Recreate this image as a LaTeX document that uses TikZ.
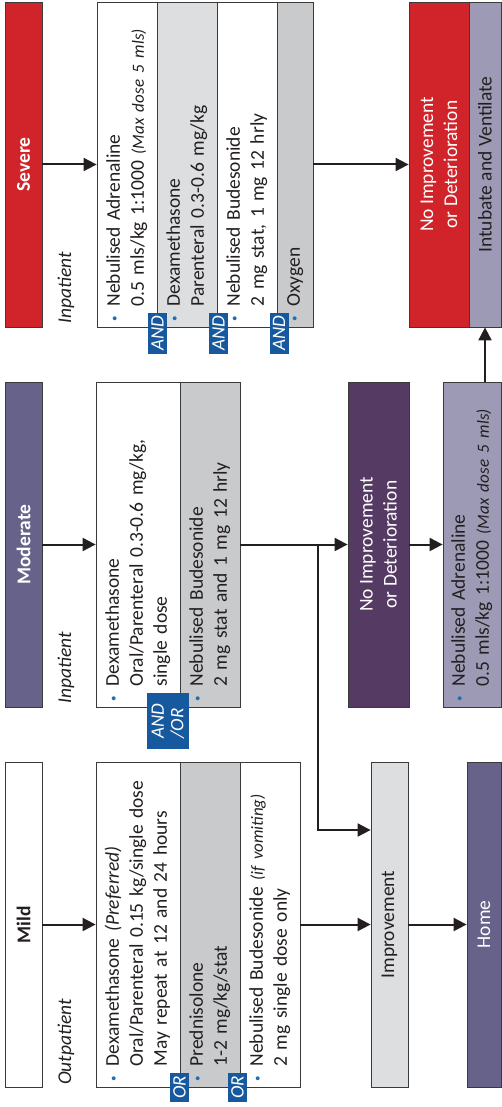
\documentclass[tikz,border=0pt]{standalone}
\usepackage{fontspec}
\setmainfont{Carlito}
\usepackage{xcolor}
\usepackage{tikz}
\usetikzlibrary{arrows.meta}
\definecolor{severered}{HTML}{D1232A}
\definecolor{modpurple}{HTML}{67628A}
\definecolor{darkpurple}{HTML}{553A63}
\definecolor{lavender}{HTML}{9D9AB6}
\definecolor{lightgrey}{HTML}{DDDEDF}
\definecolor{midgrey}{HTML}{C9CACC}
\definecolor{tagblue}{HTML}{17599E}
\definecolor{dotblue}{HTML}{1F6DB4}
\definecolor{edge}{HTML}{3A3A3A}
\definecolor{ink}{HTML}{231F20}
\newcommand{\bodysize}{\fontsize{19.5}{24}\selectfont}
\newcommand{\drug}[1]{\makebox[0.75em][l]{\raisebox{2pt}{\textcolor{dotblue}{\fontsize{11}{11}\selectfont\textbullet}}}\begin{tabular}[t]{@{}l@{}}#1\end{tabular}}
\newcommand{\note}[1]{{\itshape #1}}
\newcommand{\maxdose}{{\fontsize{17}{20}\selectfont\itshape (Max dose 5 mls)}}
\tikzset{
  stage/.style={draw=edge, line width=0.8pt, rotate=90, minimum width=325pt, minimum height=37pt, inner sep=0pt, font=\bodysize\bfseries},
  strip/.style={draw=edge, line width=0.8pt, rotate=90, minimum width=325pt, text width=313pt, align=left, inner xsep=6pt, inner ysep=0pt, font=\bodysize, text=ink},
  outcome/.style={draw=edge, line width=0.8pt, rotate=90, minimum width=325pt, inner sep=0pt, align=center, font=\bodysize},
  setting/.style={rotate=90, anchor=west, inner sep=0pt, font=\bodysize\itshape, text=ink},
  tag/.style={fill=tagblue, text=white, rotate=90, inner sep=0pt, align=left, font=\fontsize{19}{19.5}\selectfont\itshape},
  flow/.style={line width=2pt, draw=ink, -{Triangle[length=13pt,width=13pt]}},
}

\begin{document}
\begin{tikzpicture}[x=1pt, y=-1pt]
\useasboundingbox (0,0) rectangle (501,1107);

\node[stage, fill=severered, text=white] (severe) at (23.5,164.5) {Severe};
\node[setting] (sevSet) at (66,324) {Inpatient};
\node[strip, fill=white, minimum height=60pt] (sevA) at (127,164.5) {\drug{Nebulised Adrenaline\\0.5 mls/kg 1:1000 \maxdose}};
\node[strip, fill=lightgrey, minimum height=60pt] (sevB) at (187,164.5) {\drug{Dexamethasone\\Parenteral 0.3-0.6 mg/kg}};
\node[strip, fill=white, minimum height=60pt] (sevC) at (247,164.5) {\drug{Nebulised Budesonide\\2 mg stat, 1 mg 12 hrly}};
\node[strip, fill=midgrey, minimum height=36pt] (sevD) at (295,164.5) {\drug{Oxygen}};
\node[tag, minimum width=41pt, minimum height=19pt] (andA) at (157.5,333.5) {AND};
\node[tag, minimum width=41pt, minimum height=19pt] (andB) at (218.5,333.5) {AND};
\node[tag, minimum width=41pt, minimum height=19pt] (andC) at (279,333.5) {AND};
\node[outcome, fill=severered, text=white, minimum height=60pt] (sevNo) at (439,164.5) {No Improvement\\or Deterioration};
\node[outcome, fill=lavender, text=ink, minimum height=32pt] (intub) at (485,164.5) {Intubate and Ventilate};

\node[stage, fill=modpurple, text=white] (moderate) at (23.5,544.5) {Moderate};
\node[setting] (modSet) at (66,704) {Inpatient};
\node[strip, fill=white, minimum height=84pt] (modA) at (138,544.5) {\drug{Dexamethasone\\Oral/Parenteral 0.3-0.6 mg/kg,\\single dose}};
\node[strip, fill=midgrey, minimum height=60pt] (modB) at (210,544.5) {\drug{Nebulised Budesonide\\2 mg stat and 1 mg 12 hrly}};
\node[tag, minimum width=56pt, minimum height=42pt] (andor) at (168,721) {AND\\/OR};
\node[outcome, fill=darkpurple, text=white, minimum height=61pt] (modNo) at (378.5,544.5) {No Improvement\\or Deterioration};
\node[strip, fill=lavender, minimum height=58pt] (adren) at (472,544.5) {\drug{Nebulised Adrenaline\\0.5 mls/kg 1:1000 \maxdose}};
\coordinate (split) at (318,544.5);

\node[stage, fill=white, text=ink] (mild) at (23.5,924.5) {Mild};
\node[setting] (mildSet) at (66,1085) {Outpatient};
\node[strip, fill=white, minimum height=84pt] (mildA) at (138,924.5) {\drug{Dexamethasone \note{(Preferred)}\\Oral/Parenteral 0.15 kg/single dose\\May repeat at 12 and 24 hours}};
\node[strip, fill=midgrey, minimum height=60pt] (mildB) at (210,924.5) {\drug{Prednisolone\\1-2 mg/kg/stat}};
\node[strip, fill=white, minimum height=60pt] (mildC) at (270,924.5) {\drug{Nebulised Budesonide \note{\fontsize{17}{20}\selectfont(if vomiting)}\\2 mg single dose only}};
\node[tag, minimum width=29pt, minimum height=19pt] (orA) at (179.5,1087.5) {OR};
\node[tag, minimum width=29pt, minimum height=19pt] (orB) at (237.5,1087.5) {OR};
\node[outcome, fill=lightgrey, text=ink, minimum height=37pt] (improve) at (389.5,924.5) {Improvement};
\node[outcome, fill=modpurple, text=white, minimum height=34pt] (home) at (484,924.5) {Home};

\draw[flow] (severe.south) -- (sevA.north);
\draw[flow] (sevD.south) -- (sevNo.north);
\draw[flow] (moderate.south) -- (modA.north);
\draw[flow] (modB.south) -- (modNo.north);
\draw[flow] (split) |- (improve.north |- 0,830);
\draw[flow] (modNo.south) -- (adren.north);
\draw[flow] (intub.west |- adren.east) -- (intub.west);
\draw[flow] (mild.south) -- (mildA.north);
\draw[flow] (mildC.south) -- (improve.north);
\draw[flow] (improve.south) -- (home.north);
\end{tikzpicture}
\end{document}
